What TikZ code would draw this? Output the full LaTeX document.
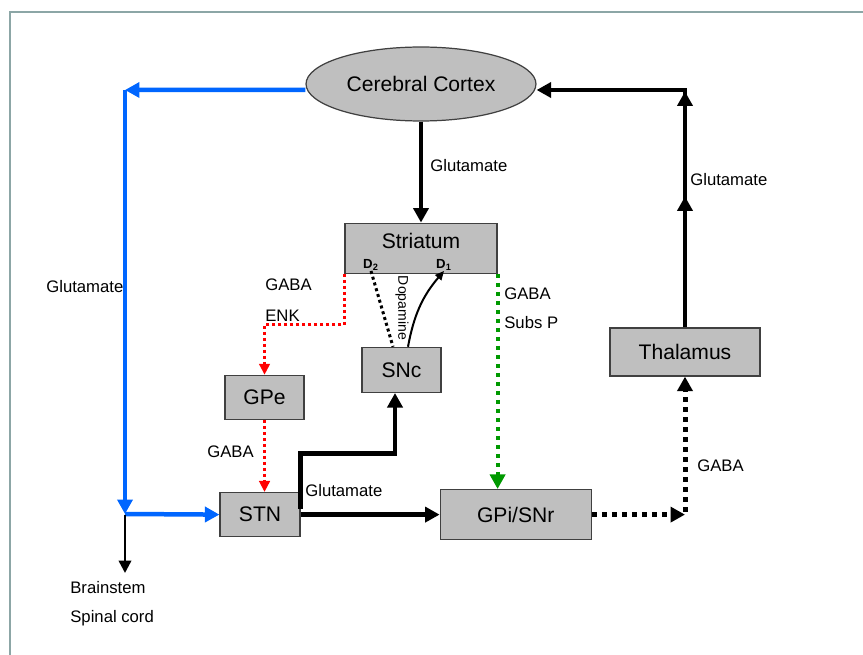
\documentclass[tikz,border=0pt]{standalone}
\usepackage{fontspec}
\setmainfont{Liberation Sans}
\usetikzlibrary{shapes,arrows.meta,positioning,calc,decorations.markings}
\definecolor{pathblue}{RGB}{0,102,255}
\definecolor{pathgreen}{RGB}{0,153,0}
\definecolor{framegray}{RGB}{140,166,166}

\begin{document}
\begin{tikzpicture}[
    x=0.02cm, y=-0.02cm,
    region/.style={draw=black!75, fill=black!25, line width=0.7pt,
                   font=\fontsize{12}{14}\selectfont, inner sep=0pt},
    lbl/.style={font=\fontsize{9.5}{11}\selectfont, anchor=west, inner sep=0pt},
    dlbl/.style={font=\fontsize{7.5}{9}\bfseries, inner sep=0pt},
    bigtip/.style={-{Triangle[length=0.29cm,width=0.3cm]}},
    arrow/.style={bigtip, line width=0.09cm},
    bluearrow/.style={arrow, pathblue},
    redarrow/.style={-{Triangle[length=0.22cm,width=0.21cm]}, red, line width=0.06cm,
                     dash pattern=on 0.06cm off 0.06cm},
    greenarrow/.style={bigtip, pathgreen, line width=0.08cm,
                       dash pattern=on 0.08cm off 0.1cm},
    dotarrow/.style={bigtip, line width=0.1cm, dash pattern=on 0.1cm off 0.1cm},
    midarrows/.style={postaction={decorate}, decoration={markings,
        mark=at position 2.62cm with {\arrow{Triangle[length=0.29cm,width=0.3cm]}},
        mark=at position 4.72cm with {\arrow{Triangle[length=0.29cm,width=0.3cm]}}}}
]
    \useasboundingbox (0,0) rectangle (863,655);
    \draw[framegray, line width=0.04cm] (863,12) -- (10,12) -- (10,655);

    % regions
    \node[region, ellipse, minimum width=4.6cm, minimum height=1.48cm] (cortex) at (421,84) {Cerebral Cortex};
    \node[region, minimum width=3.04cm, minimum height=1cm, below=2.02cm of cortex,
          label={[font=\fontsize{12}{14}\selectfont, anchor=center, yshift=-0.36cm]north:Striatum}] (striatum) {};
    \node[region, minimum width=1.58cm, minimum height=0.9cm, below=1.46cm of striatum, xshift=-0.39cm] (snc) {SNc};
    \node[region, minimum width=1.58cm, minimum height=0.88cm, below=2.02cm of striatum, xshift=-3.13cm] (gpe) {GPe};
    \node[region, minimum width=1.6cm, minimum height=0.88cm, below=1.44cm of gpe, xshift=-0.09cm] (stn) {STN};
    \node[region, minimum width=3.02cm, minimum height=1cm, right=2.78cm of stn] (gpi) {GPi/SNr};
    \node[region, minimum width=3cm, minimum height=0.96cm] (thal) at (685,352) {Thalamus};

    \node[dlbl] (d2) at (371,265) {D\textsubscript{2}};
    \node[dlbl] (d1) at (444,265) {D\textsubscript{1}};

    \coordinate (bend) at (125,90);
    \coordinate (split) at (125,514);
    \coordinate (brain) at (125,573);

    % labels
    \node[lbl] (glu1) at (430,166) {Glutamate};
    \node[lbl] (glu2) at (46,287) {Glutamate};
    \node[lbl] (glu3) at (305,491) {Glutamate};
    \node[lbl] (glu4) at (690,180) {Glutamate};
    \node[lbl] (gaba1) at (265,285) {GABA};
    \node[lbl] (enk) at (265,316) {ENK};
    \node[lbl] (gaba2) at (207,452) {GABA};
    \node[lbl] (gaba3) at (504,294) {GABA};
    \node[lbl] (subsp) at (504,323) {Subs P};
    \node[lbl] (gaba4) at (697,466) {GABA};
    \node[lbl] (bstem) at (70,588) {Brainstem};
    \node[lbl] (spinal) at (70,618) {Spinal cord};
    \node[font=\fontsize{8}{9}\selectfont, inner sep=0pt, rotate=-90] (dopa) at (402,308) {Dopamine};

    % connections
    \draw[arrow] (cortex.south) -- (striatum.north);
    \draw[bluearrow] ([yshift=-0.12cm]cortex.west) -- (bend);
    \draw[bluearrow] (bend) -- (split);
    \draw[bluearrow] (split) -- (stn.west);
    \draw[-{Triangle[length=0.25cm,width=0.25cm]}, line width=0.05cm] ([yshift=-0.02cm]split) -- (brain);

    \draw[redarrow] (striatum.south west) -- ++(0,51) -| (gpe.north);
    \draw[redarrow] (gpe.south) -- (gpe.south |- stn.north);
    \draw[greenarrow] (striatum.south east) -- (striatum.south east |- gpi.north);

    \draw[line width=0.06cm, dash pattern=on 0.06cm off 0.06cm] (d2.south) -- ([xshift=-0.17cm]snc.north);
    \draw[-{Triangle[length=0.18cm,width=0.16cm]}, line width=0.04cm] ([xshift=0.13cm]snc.north) to[bend left=15] (d1.south);

    \draw[arrow] (stn.east) -- (gpi.west);
    \draw[arrow] ([yshift=0.12cm]stn.east) -- ++(0,-55) -| ([xshift=-0.13cm]snc.south);
    \draw[dotarrow] (gpi.east) -- (thal.south |- gpi.east);
    \draw[dotarrow] ([yshift=0.06cm]thal.south |- gpi.east) -- (thal.south);
    \draw[arrow, midarrows] (thal.north) |- ([yshift=-0.12cm]cortex.east);
\end{tikzpicture}
\end{document}
